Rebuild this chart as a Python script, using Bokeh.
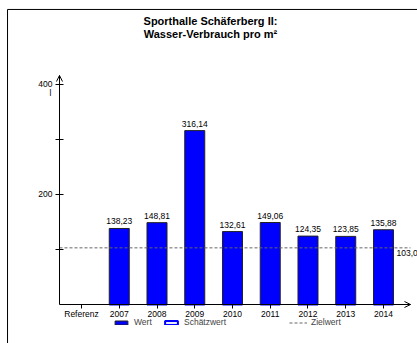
from bokeh.plotting import figure
from bokeh.models import (Range1d, FixedTicker, Label, Arrow, OpenHead, BoxAnnotation,
                          Legend, LegendItem, ColumnDataSource)
from bokeh.core.properties import value
from bokeh.embed import file_html
from bokeh.resources import INLINE

# ---- data ----
categories = ["Referenz", "2007", "2008", "2009", "2010", "2011", "2012", "2013", "2014"]
years = ["2007", "2008", "2009", "2010", "2011", "2012", "2013", "2014"]
wert = [138.23, 148.81, 316.14, 132.61, 149.06, 124.35, 123.85, 135.88]
schaetzwert = [None, None, None, None, None, None, None, None]   # no estimates shown
zielwert = 103.0
zielwert_label = "103,00"
y_ticks = [100, 200, 300, 400]
y_tick_labels = {100: "", 200: "200", 300: "", 400: "400"}
unit_label = "l"
title_lines = ["Sporthalle Schäferberg II:", "Wasser-Verbrauch pro m²"]

FONT = "Liberation Sans"
SMALL = "8.5px"

x_pos = [categories.index(y) for y in years]
labels = [f"{v:.2f}".replace(".", ",") for v in wert]
src = ColumnDataSource(dict(x=x_pos, top=wert, label=labels))
src_s = ColumnDataSource(dict(x=x_pos, top=schaetzwert))

# view window (frame = whole canvas); axes drawn at fixed locations inside it
x_start, x_end = -2.146, 8.901
y_start, y_end = -70.9, 552.7
x_axis_lo, x_axis_hi = -0.583, 8.715
y_axis_hi = 416.4

p = figure(width=417, height=343, output_backend="svg", toolbar_location=None,
           x_range=Range1d(x_start, x_end), y_range=Range1d(y_start, y_end),
           min_border=0, min_border_left=0, min_border_right=0,
           min_border_top=0, min_border_bottom=0,
           background_fill_color="white", border_fill_color="white")
p.outline_line_color = None
p.grid.visible = False

# outer frame (only left and top edges fall inside the picture)
p.add_layout(BoxAnnotation(left=-1.96, right=x_end + 5, top=536.4, bottom=y_start - 100,
                           fill_color=None, fill_alpha=0, line_color="black", line_width=1,
                           line_alpha=1))

# title
for line, yy in zip(title_lines, [516.0, 492.5]):
    p.add_layout(Label(x=3.417, y=yy, text=line, text_align="center", text_baseline="middle",
                       text_font=FONT, text_font_size="11px", text_font_style="bold",
                       text_color="black"))

# axes
p.xaxis.fixed_location = 0
p.yaxis.fixed_location = x_axis_lo
p.xaxis.bounds = (x_axis_lo, x_axis_hi)
p.yaxis.bounds = (0, y_axis_hi)
p.xaxis.ticker = FixedTicker(ticks=list(range(len(categories))))
p.xaxis.major_label_overrides = {i: c for i, c in enumerate(categories)}
p.yaxis.ticker = FixedTicker(ticks=y_ticks)
p.yaxis.major_label_overrides = y_tick_labels
for ax in (p.xaxis, p.yaxis):
    ax.axis_line_color = "black"
    ax.axis_line_width = 1
    ax.major_tick_line_color = "black"
    ax.minor_tick_line_color = None
    ax.major_label_text_font = FONT
    ax.major_label_text_font_size = SMALL
    ax.major_label_text_color = "black"
p.xaxis.major_tick_in = 0
p.xaxis.major_tick_out = 4
p.xaxis.major_label_standoff = 0
p.yaxis.major_tick_in = 4
p.yaxis.major_tick_out = 4
p.yaxis.major_label_standoff = 3

# bars
r_wert = p.vbar(x="x", top="top", width=0.53, source=src, fill_color="#0000FF",
                line_color="#222222", line_width=1)
r_schaetz = p.vbar(x="x", top="top", width=0.53, source=src_s, fill_color="#E8ECFF",
                   line_color="#0000FF", line_width=2)
p.text(x="x", y="top", text="label", source=src, text_align="center",
       text_baseline="bottom", y_offset=-4, text_font=value(FONT),
       text_font_size=value(SMALL), text_color="black")

# target line
r_ziel = p.line(x=[x_axis_lo, x_axis_hi], y=[zielwert, zielwert], line_color="#666666",
                line_width=1, line_dash="3 2")
p.add_layout(Label(x=categories.index(years[-1]), y=zielwert, x_offset=13, y_offset=-2,
                   text=zielwert_label, text_baseline="top", text_align="left",
                   text_font=FONT, text_font_size=SMALL, text_color="black"))

# unit label under the top tick
p.add_layout(Label(x=x_axis_lo, y=y_ticks[-1], x_offset=-9, y_offset=-9, text=unit_label,
                   text_align="center", text_baseline="middle",
                   text_font=FONT, text_font_size=SMALL, text_color="black"))

# axis arrows
p.add_layout(Arrow(end=OpenHead(size=6, line_width=1, line_color="black"),
                   x_start=x_axis_hi - 0.05, y_start=0, x_end=x_axis_hi, y_end=0,
                   line_color="black", line_width=1))
p.add_layout(Arrow(end=OpenHead(size=6, line_width=1, line_color="black"),
                   x_start=x_axis_lo, y_start=y_axis_hi - 2, x_end=x_axis_lo, y_end=y_axis_hi,
                   line_color="black", line_width=1))

# legends
def style_legend(lg):
    lg.orientation = "horizontal"
    lg.background_fill_alpha = 0
    lg.border_line_color = None
    lg.padding = 0
    lg.margin = 0
    lg.spacing = 9
    lg.label_standoff = 5
    lg.label_text_font = FONT
    lg.label_text_font_size = SMALL
    lg.label_height = 8
    lg.glyph_height = 5
    lg.glyph_width = 16

lg1 = Legend(items=[LegendItem(label="Wert", renderers=[r_wert]),
                    LegendItem(label="Schätzwert", renderers=[r_schaetz])],
             location=(113, 16))
style_legend(lg1)
lg2 = Legend(items=[LegendItem(label="Zielwert", renderers=[r_ziel])], location=(289, 16))
style_legend(lg2)
lg2.glyph_width = 18
lg2.label_standoff = 4
p.add_layout(lg1)
p.add_layout(lg2)

open("out.html", "w").write(file_html(p, INLINE))
